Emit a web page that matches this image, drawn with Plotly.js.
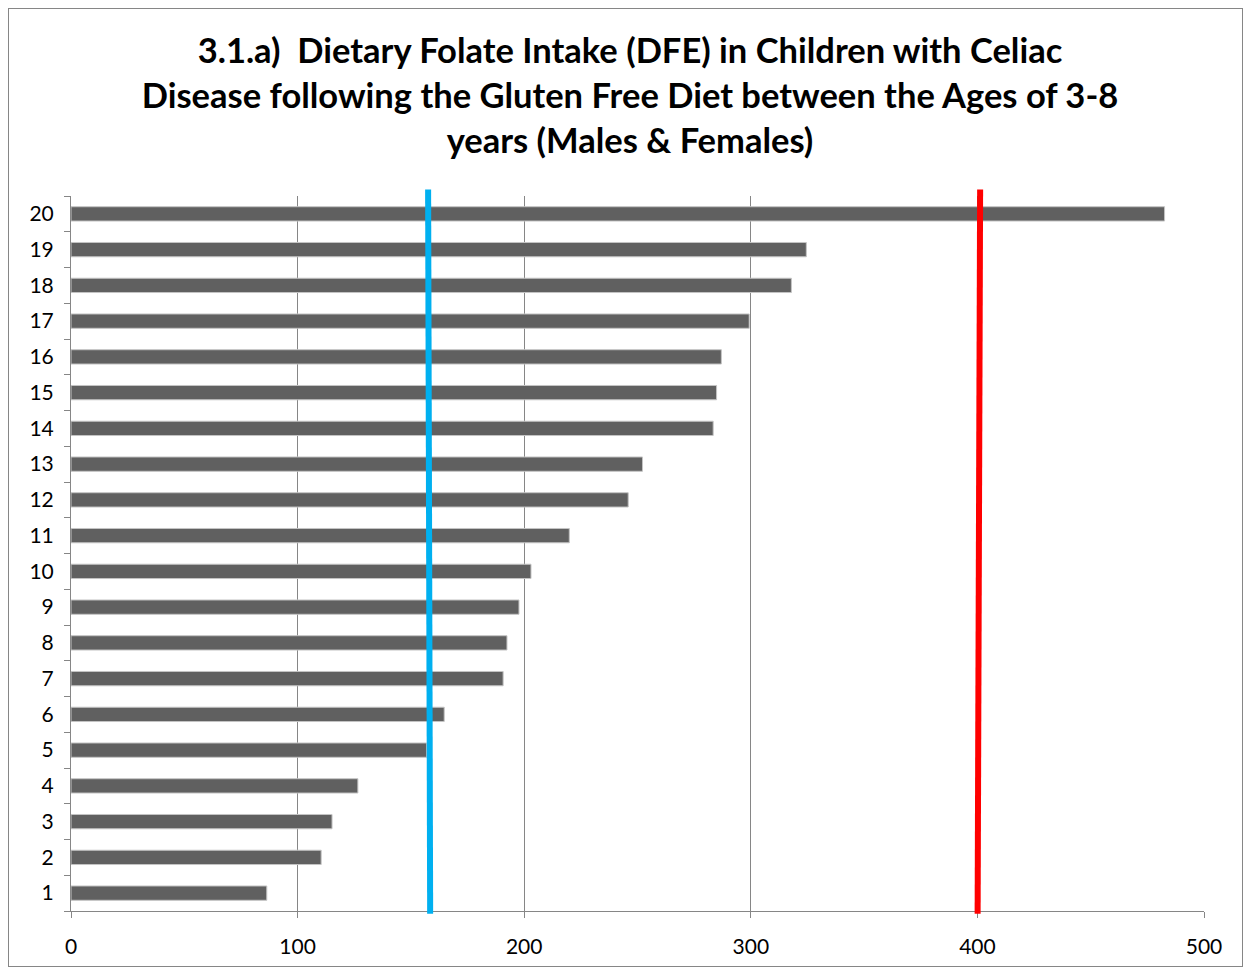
<!DOCTYPE html>
<html>
<head>
<meta charset="utf-8">
<script src="https://cdn.plot.ly/plotly-3.0.1.min.js"></script>
<style>
  html, body { margin: 0; padding: 0; background: #fff; }
  #wrap { position: relative; width: 1250px; height: 974px; }
  #chart { width: 1250px; height: 974px; }
  #frame { position: absolute; left: 8px; top: 8px; width: 1233px; height: 957px;
           border: 1px solid #868686; pointer-events: none; }
</style>
</head>
<body>
<div id="wrap">
  <div id="chart"></div>
  <div id="frame"></div>
</div>
<script>
// Child number (1-20) and dietary folate intake in µg DFE
const children = ['1','2','3','4','5','6','7','8','9','10','11','12','13','14','15','16','17','18','19','20'];
const folateDFE = [86.4, 110.4, 115.2, 126.6, 156.9, 164.7, 190.7, 192.4, 197.7, 203,
                   219.9, 245.9, 252.2, 283.4, 284.9, 287, 299.3, 317.9, 324.5, 482.6];

// Reference lines: [bottom, top] x positions
const earLine = [158.5, 157.6];
const ulLine = [400.1, 401.2];

const xTicks = [0, 100, 200, 300, 400, 500];

const trace = {
  type: 'bar',
  orientation: 'h',
  y: children,
  x: folateDFE,
  width: 0.4,
  marker: { color: '#606060', line: { color: '#c4c4c4', width: 1 } },
  hoverinfo: 'x+y',
  showlegend: false
};

function refLine(xs, color) {
  return {
    type: 'line', xref: 'x', yref: 'paper',
    x0: xs[0], x1: xs[1], y0: -0.004, y1: 1.009,
    line: { color: color, width: 6 },
    layer: 'above'
  };
}

const layout = {
  width: 1250,
  height: 974,
  margin: { l: 71, r: 46, t: 196, b: 63 },
  paper_bgcolor: '#ffffff',
  plot_bgcolor: '#ffffff',
  font: { family: 'Lato, "Open Sans", sans-serif', color: '#000000', size: 21 },
  title: {
    text: '<b>3.1.a)  Dietary Folate Intake (DFE) in Children with Celiac<br>Disease following the Gluten Free Diet between the Ages of 3-8<br>years (Males &amp; Females)</b>',
    font: { family: 'Lato, "Open Sans", sans-serif', size: 34.5, color: '#000000' },
    x: 0.504, xanchor: 'center',
    y: 0.935, yanchor: 'top'
  },
  xaxis: {
    range: [0, 500],
    tickvals: xTicks,
    ticktext: xTicks.map(String),
    showgrid: true,
    gridcolor: '#868686',
    gridwidth: 1,
    zeroline: false,
    showline: true,
    linecolor: '#868686',
    linewidth: 1,
    ticks: 'outside',
    ticklen: 6,
    tickcolor: '#868686',
    ticklabelstandoff: 11,
    tickfont: { size: 21, color: '#000000' },
    fixedrange: true
  },
  yaxis: {
    type: 'category',
    categoryorder: 'array',
    categoryarray: children,
    range: [-0.5, 19.5],
    showgrid: false,
    zeroline: false,
    showline: true,
    linecolor: '#868686',
    linewidth: 1,
    ticks: 'outside',
    tickson: 'boundaries',
    ticklen: 6,
    tickcolor: '#868686',
    ticklabelstandoff: 12,
    tickfont: { size: 21, color: '#000000' },
    fixedrange: true
  },
  shapes: [refLine(earLine, '#00b0f0'), refLine(ulLine, '#ff0000')],
  bargap: 0.6
};

Plotly.newPlot('chart', [trace], layout, { displayModeBar: false, staticPlot: true });
</script>
</body>
</html>
